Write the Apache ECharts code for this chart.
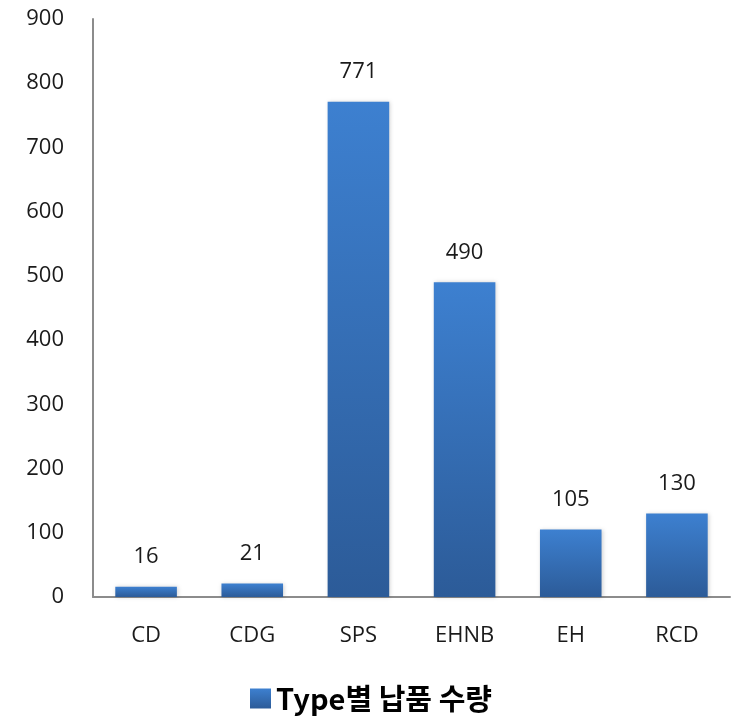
<!DOCTYPE html>
<html>
<head>
<meta charset="utf-8">
<script src="https://cdn.jsdelivr.net/npm/echarts@6/dist/echarts.min.js"></script>
<style>
  html, body { margin: 0; padding: 0; background: #fff; }
  #chart { width: 736px; height: 717px; }
</style>
</head>
<body>
<div id="chart"></div>
<script>
// Delivered quantity by type
const categories = ['CD', 'CDG', 'SPS', 'EHNB', 'EH', 'RCD'];
const quantities = [16, 21, 771, 490, 105, 130];
const seriesName = 'Type별 납품 수량';
const yTicks = { min: 0, max: 900, interval: 100 };

const font = '"Open Sans", "Noto Sans", sans-serif';
const barFill = new echarts.graphic.LinearGradient(0, 0, 0, 1, [
  { offset: 0, color: '#3d80d0' },
  { offset: 1, color: '#2c5b98' }
]);

const chart = echarts.init(document.getElementById('chart'), null, { renderer: 'canvas' });
chart.setOption({
  animation: false,
  backgroundColor: '#ffffff',
  grid: { left: 93, right: 6, top: 19, bottom: 120, containLabel: false },
  legend: {
    left: 245,
    top: 679,
    itemWidth: 21,
    itemHeight: 20,
    itemGap: 6,
    icon: 'rect',
    textStyle: {
      fontFamily: '"Noto Sans CJK KR", ' + font,
      fontSize: 29,
      fontWeight: 'bold',
      color: '#000'
    },
    data: [seriesName]
  },
  xAxis: {
    type: 'category',
    data: categories,
    axisLine: { lineStyle: { color: '#8c8c8c', width: 2 } },
    axisTick: { show: false },
    axisLabel: { color: '#1a1a1a', fontSize: 22, fontFamily: font, margin: 28 },
    splitLine: { show: false }
  },
  yAxis: {
    type: 'value',
    min: yTicks.min,
    max: yTicks.max,
    interval: yTicks.interval,
    axisLine: { show: true, lineStyle: { color: '#8c8c8c', width: 2 } },
    axisTick: { show: false },
    axisLabel: { color: '#1a1a1a', fontSize: 22, fontFamily: font, margin: 29 },
    splitLine: { show: false }
  },
  series: [{
    name: seriesName,
    type: 'bar',
    data: quantities,
    barWidth: '58%',
    itemStyle: {
      color: barFill,
      shadowColor: 'rgba(0,0,0,0.18)',
      shadowBlur: 4,
      shadowOffsetX: 1,
      shadowOffsetY: 0
    },
    label: {
      show: true,
      position: 'top',
      distance: 19,
      color: '#1a1a1a',
      fontSize: 22,
      fontFamily: font
    }
  }]
});
</script>
</body>
</html>
